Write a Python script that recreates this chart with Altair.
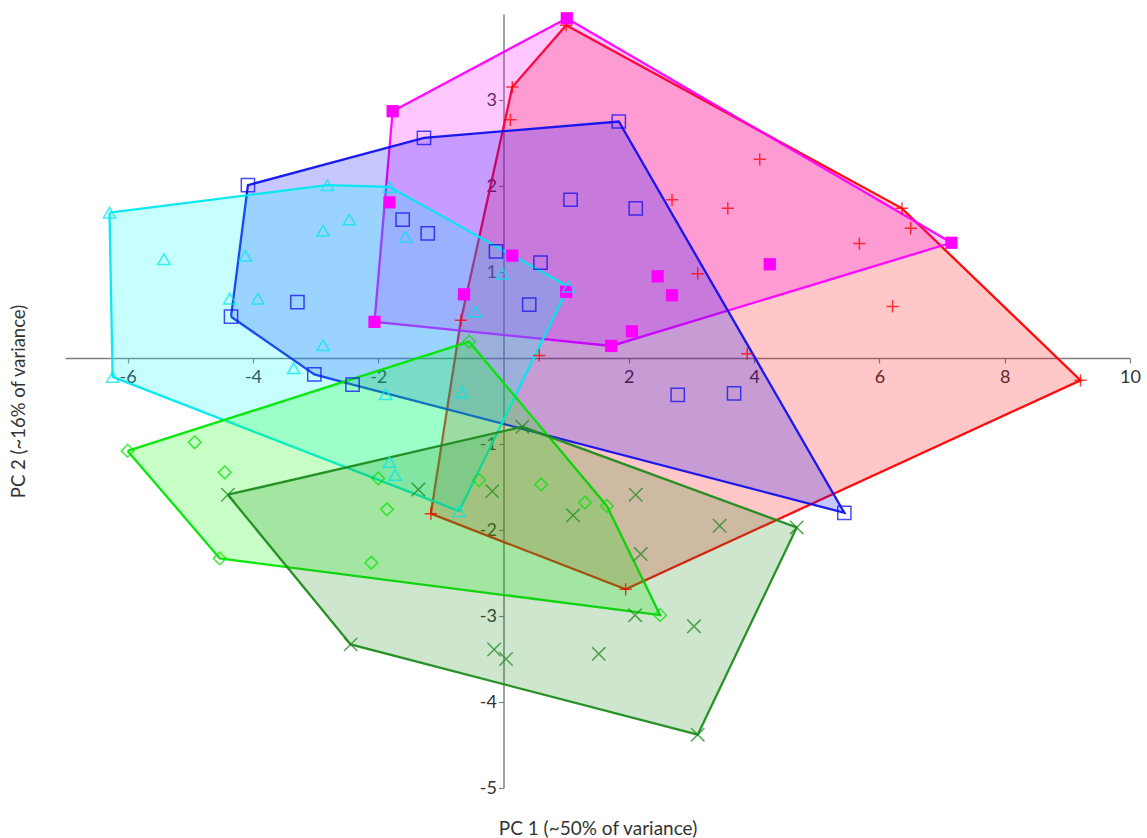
import altair as alt
import pandas as pd

# ---- data (PC1, PC2) ----
red_x = [0.14, 0.11, -0.68, 0.57, 2.69, 1.00, 4.09, 3.58, 6.36, 6.50, 5.68, 3.10, 6.21, 3.89, 9.21, -1.16, 1.95]
red_y = [3.15, 2.77, 0.44, 0.03, 1.84, 3.87, 2.31, 1.74, 1.74, 1.51, 1.33, 0.98, 0.60, 0.05, -0.26, -1.81, -2.69]

mag_x = [1.01, -1.77, -1.82, -2.06, -0.63, 0.14, 1.00, 1.72, 2.05, 2.46, 2.69, 4.25, 7.15]
mag_y = [3.95, 2.87, 1.81, 0.42, 0.74, 1.19, 0.77, 0.14, 0.31, 0.95, 0.73, 1.09, 1.34]

blue_x = [-4.35, -4.08, -3.29, -3.02, -2.41, -1.61, -1.27, -1.21, -0.12, 0.59, 0.41, 1.07, 2.11, 1.84, 2.78, 3.68, 5.44]
blue_y = [0.48, 2.01, 0.65, -0.19, -0.31, 1.61, 2.56, 1.45, 1.24, 1.11, 0.62, 1.84, 1.74, 2.75, -0.43, -0.41, -1.80]

cyan_x = [-6.29, -6.24, -5.42, -4.12, -4.37, -3.92, -2.88, -2.46, -2.81, -1.82, -1.56, -2.88, -3.35, -1.88,
          -0.45, -0.02, 1.04, -0.66, -1.82, -1.73, -0.71]
cyan_y = [1.69, -0.22, 1.15, 1.19, 0.69, 0.69, 1.48, 1.61, 2.01, 1.99, 1.41, 0.15, -0.12, -0.42,
          0.54, 0.98, 0.83, -0.40, -1.21, -1.36, -1.78]

lime_x = [-6.00, -4.93, -4.45, -4.53, -1.86, -2.00, -2.11, -0.39, 0.60, 1.30, 1.65, 2.50, -0.55]
lime_y = [-1.08, -0.98, -1.33, -2.33, -1.76, -1.40, -2.38, -1.42, -1.47, -1.68, -1.72, -2.99, 0.19]

green_x = [-4.40, -2.44, -1.36, -0.18, -0.15, 0.30, 1.11, 2.11, 3.45, 4.68, 2.19, 2.10, 3.04, 1.52, 0.04, 3.10]
green_y = [-1.59, -3.33, -1.53, -1.55, -3.39, -0.80, -1.83, -1.59, -1.95, -1.97, -2.28, -2.99, -3.12, -3.44, -3.50, -4.38]

x_ticks = [-6, -4, -2, 2, 4, 6, 8, 10]
y_ticks = [-5, -4, -3, -2, -1, 1, 2, 3]

PLUS = "M-1,0L1,0M0,-1L0,1"
CROSS = "M-1,-1L1,1M-1,1L1,-1"

groups = [
    # name, xs, ys, stroke, fill, shape, filled, size
    ("red", red_x, red_y, "#ff0000", "#ff0000", PLUS, False, 150),
    ("magenta", mag_x, mag_y, "#ff00ff", "#ff00ff", "square", True, 150),
    ("blue", blue_x, blue_y, "#1010ee", "#0000ff", "square", False, 175),
    ("cyan", cyan_x, cyan_y, "#00e8f0", "#00ffff", "triangle-up", False, 150),
    ("lime", lime_x, lime_y, "#00e600", "#00ff00", "diamond", False, 160),
    ("green", green_x, green_y, "#1e8c1e", "#1e8c1e", CROSS, False, 180),
]


def hull(pts):
    pts = sorted(set(pts))
    def cross(o, a, b):
        return (a[0] - o[0]) * (b[1] - o[1]) - (a[1] - o[1]) * (b[0] - o[0])
    lower, upper = [], []
    for p in pts:
        while len(lower) >= 2 and cross(lower[-2], lower[-1], p) <= 0:
            lower.pop()
        lower.append(p)
    for p in reversed(pts):
        while len(upper) >= 2 and cross(upper[-2], upper[-1], p) <= 0:
            upper.pop()
        upper.append(p)
    return lower[:-1] + upper[:-1]


FONT = "Lato"
TXT = "#333333"
AX = "#808080"

xscale = alt.Scale(domain=[-7, 10], nice=False, zero=False)
yscale = alt.Scale(domain=[-5, 4], nice=False, zero=False)

x_axis = alt.Axis(values=x_ticks, offset=-430, grid=False, domainColor=AX, domainWidth=1.5,
                  tickColor=AX, tickSize=5, tickWidth=1.2, labelFont=FONT, labelFontSize=18,
                  labelColor=TXT, labelPadding=5, labelFlush=False,
                  labelExpr="toString(datum.value)",
                  title="PC 1 (~50% of variance)", titleFont=FONT, titleFontSize=19,
                  titleFontWeight="normal", titleColor=TXT, titleY=470, titleBaseline="middle")
y_axis = alt.Axis(values=y_ticks, offset=-438.5, grid=False, domainColor=AX, domainWidth=1.5,
                  tickColor=AX, tickSize=5, tickWidth=1.2, labelFont=FONT, labelFontSize=18,
                  labelColor=TXT, labelPadding=2, labelFlush=False,
                  labelExpr="toString(datum.value)",
                  title="PC 2 (~16% of variance)", titleFont=FONT, titleFontSize=18.5,
                  titleFontWeight="normal", titleColor=TXT, titleX=-485.5, titleBaseline="middle")

X = alt.X("x:Q", scale=xscale, axis=x_axis)
Y = alt.Y("y:Q", scale=yscale, axis=y_axis)

poly_layers = []
point_layers = []
for name, xs, ys, stroke, fill, shape, filled, size in groups:
    h = hull(list(zip(xs, ys)))
    h = h + [h[0]]
    pdf = pd.DataFrame({"x": [p[0] for p in h], "y": [p[1] for p in h], "o": list(range(len(h)))})
    poly_layers.append(
        alt.Chart(pdf).mark_line(fill=fill, fillOpacity=0.22, stroke=stroke, strokeWidth=2.3,
                                 strokeOpacity=0.95, interpolate="linear")
        .encode(x=X, y=Y, order="o:Q")
    )
    ddf = pd.DataFrame({"x": xs, "y": ys})
    if filled:
        mk = alt.Chart(ddf).mark_point(shape=shape, filled=True, size=size, color=stroke, opacity=1)
    else:
        mk = alt.Chart(ddf).mark_point(shape=shape, filled=False, size=size, color=stroke,
                                       strokeWidth=1.5, opacity=0.75)
    point_layers.append(mk.encode(x=X, y=Y))

chart = alt.layer(*poly_layers, *point_layers).properties(
    width=1065, height=774,
    padding={"left": 65, "top": 14, "right": 17, "bottom": 50},
    autosize=alt.AutoSizeParams(type="none"),
    background="white",
).configure_view(strokeWidth=0)

chart.save("out.html", embed_options={"renderer": "svg", "actions": False})
